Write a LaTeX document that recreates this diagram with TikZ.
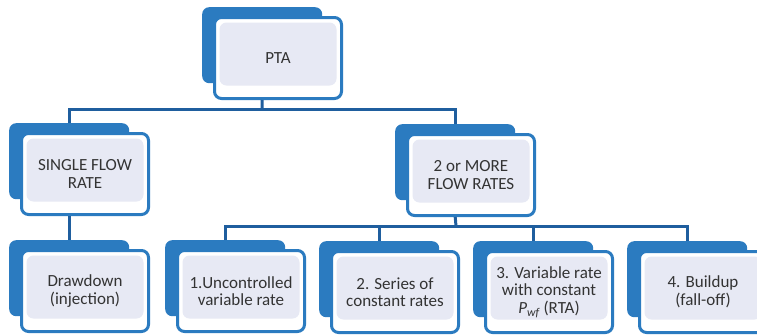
\documentclass[tikz,border=0pt]{standalone}
\usepackage{fontspec}
\setmainfont{Carlito}
\definecolor{boxblue}{HTML}{2B7BC0}
\definecolor{linkblue}{HTML}{1F5E9E}
\definecolor{innerfill}{HTML}{E7E9F4}
\definecolor{txt}{HTML}{333333}
\tikzset{
  backbox/.style={fill=boxblue, draw=none, rounded corners=7pt, minimum width=120pt,
    minimum height=76pt, inner sep=0pt, anchor=north west},
  frontbox/.style={fill=white, draw=boxblue, line width=3pt, rounded corners=7pt,
    minimum width=127pt, minimum height=81pt, inner sep=2pt, anchor=north west,
    align=center, text=txt, font=\fontsize{17}{17.5}\selectfont,
    path picture={\fill[innerfill] ([xshift=5pt,yshift=-5pt]path picture bounding box.north west)
      rectangle ([xshift=-5pt,yshift=13pt]path picture bounding box.south east);}},
  link/.style={draw=linkblue, line width=3pt}
}
\newcommand\mkbox[4]{%
  \node[backbox] (#1b) at (#2,-#3) {};
  \node[frontbox] (#1) at (#2+11,-#3-9) {#4};
}
\newcommand\pwfsym{{\itshape P}\textsubscript{\itshape wf}}
\begin{document}
\begin{tikzpicture}[x=1pt,y=1pt]
\useasboundingbox (0,0) rectangle (757,-335);
\clip (0,0) rectangle (757,-335);
\coordinate (j1) at (262,-109);
\coordinate (j2) at (456,-226);
\mkbox{pta}{202}{7}{PTA}
\mkbox{single}{9}{123}{SINGLE FLOW\\RATE}
\mkbox{more}{395}{124}{2 or MORE\\FLOW RATES}
\mkbox{draw}{9}{240}{Drawdown\\(injection)}
\mkbox{one}{165}{240}{1.Uncontrolled\\variable rate}
\mkbox{two}{319}{241}{2. Series of\\constant rates}
\mkbox{three}{473}{241}{3. Variable rate\\with constant\\\pwfsym{} (RTA)}
\mkbox{four}{627}{241}{4. Buildup\\(fall-off)}
% connectors
\draw[link] (ptab.north |- pta.south) -- (j1);
\draw[link] (j1) -| (singleb.north);
\draw[link] (j1) -| (moreb.north);
\draw[link] (singleb.north |- single.south) -- (drawb.north);
\draw[link] (moreb.north |- more.south) -- (j2);
\draw[link] (j2) -| (oneb.north);
\draw[link] (j2) -| (twob.north);
\draw[link] (j2) -| (threeb.north);
\draw[link] (j2) -| (fourb.north);
\end{tikzpicture}
\end{document}
